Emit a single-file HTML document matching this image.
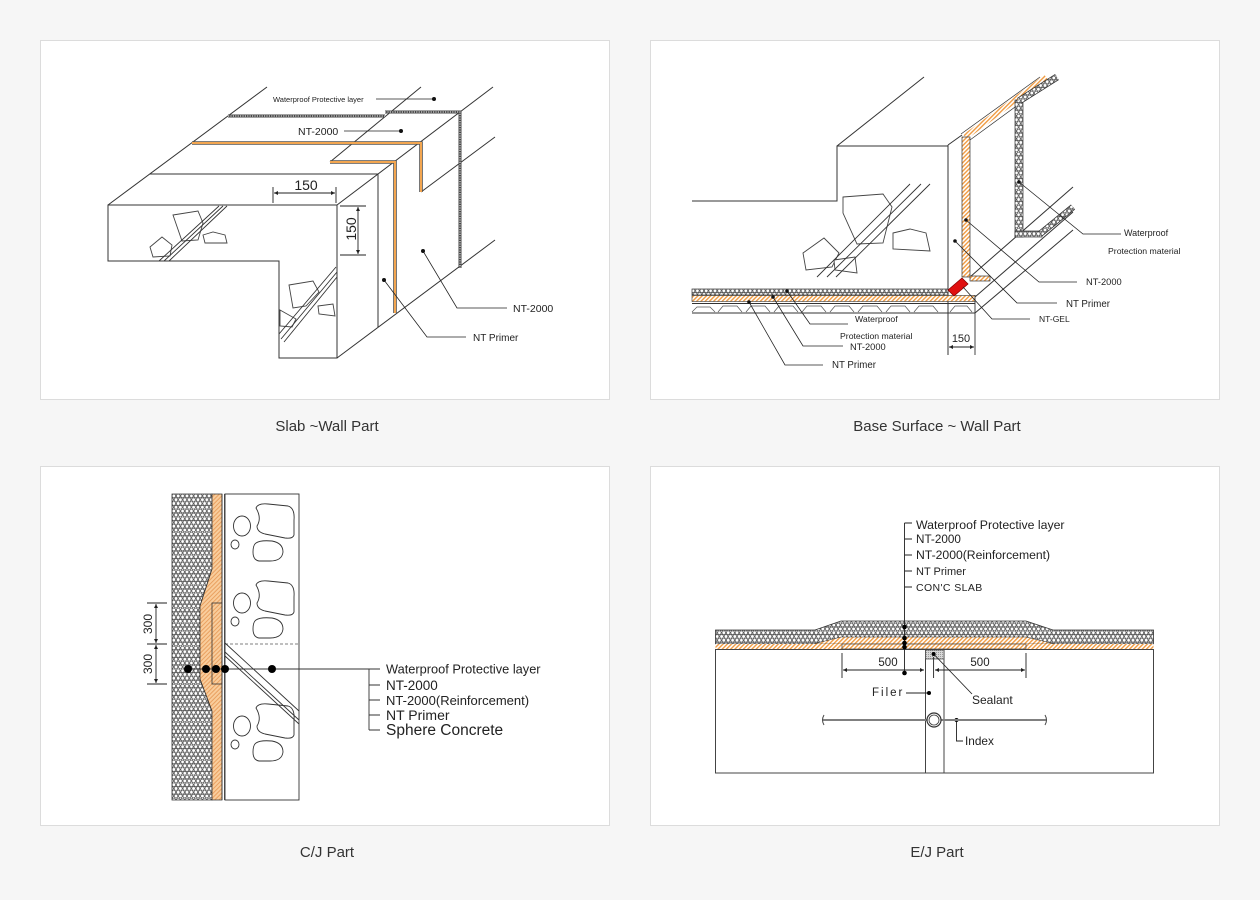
<!DOCTYPE html>
<html><head><meta charset="utf-8"><style>
html,body{margin:0;padding:0;background:#f6f6f6;}
svg{display:block}
</style></head><body>
<svg width="1260" height="900" viewBox="0 0 1260 900" xmlns="http://www.w3.org/2000/svg" font-family="'Liberation Sans', sans-serif">
<defs>
<pattern id="hx" width="4.4" height="7.6" patternUnits="userSpaceOnUse">
<rect width="4.4" height="7.6" fill="#fff"/>
<circle cx="2.2" cy="1.9" r="1.85" fill="none" stroke="#333" stroke-width="0.7"/>
<circle cx="0" cy="5.7" r="1.85" fill="none" stroke="#333" stroke-width="0.7"/>
<circle cx="4.4" cy="5.7" r="1.85" fill="none" stroke="#333" stroke-width="0.7"/>
</pattern>
<pattern id="oh" width="3" height="3" patternUnits="userSpaceOnUse" patternTransform="rotate(45)">
<rect width="3" height="3" fill="#fff"/><rect width="1.4" height="3" fill="#f09a40"/>
</pattern>
<pattern id="oh2" width="3" height="3" patternUnits="userSpaceOnUse" patternTransform="rotate(45)">
<rect width="3" height="3" fill="#f9cd9c"/><rect width="1" height="3" fill="#e9a060"/>
</pattern>
<pattern id="gs" width="2" height="2" patternUnits="userSpaceOnUse">
<rect width="2" height="2" fill="#d8d8d8"/><rect width="1" height="1" fill="#999"/>
</pattern>
<marker id="ar" viewBox="0 0 10 10" refX="10" refY="5" markerWidth="7" markerHeight="4" orient="auto-start-reverse" markerUnits="userSpaceOnUse"><path d="M0,0 L10,5 L0,10 z" fill="#222"/></marker>
</defs>

<rect width="1260" height="900" fill="#f6f6f6"/>
<rect x="40.5" y="40.5" width="569" height="359" fill="#fff" stroke="#dcdcdc"/>
<rect x="650.5" y="40.5" width="569" height="359" fill="#fff" stroke="#dcdcdc"/>
<rect x="40.5" y="466.5" width="569" height="359" fill="#fff" stroke="#dcdcdc"/>
<rect x="650.5" y="466.5" width="569" height="359" fill="#fff" stroke="#dcdcdc"/>

<g font-size="15" fill="#333" text-anchor="middle">
<text x="327" y="431">Slab ~Wall Part</text>
<text x="937" y="431">Base Surface ~ Wall Part</text>
<text x="327" y="857">C/J Part</text>
<text x="937" y="857">E/J Part</text>
</g>

<!-- ================= PANEL 1 ================= -->
<g fill="none" stroke="#333" stroke-width="1">
<path d="M108,205 L267,87"/>
<path d="M108,205 H337 V358 H279 V261 H108 Z"/>
<path d="M337,205 L493,87"/>
<path d="M150,174 H378 V327"/>
<path d="M337,358 L495,240"/>
<path d="M330,162 L421,87"/>
<path d="M421,192 L495,137"/>
</g>
<path d="M192,143 H421 V192" fill="none" stroke="#555" stroke-width="3.6"/>
<path d="M192,143 H421 V192" fill="none" stroke="#f3a650" stroke-width="2"/>
<path d="M330,162 H395 V313" fill="none" stroke="#555" stroke-width="3.6"/>
<path d="M330,162 H395 V313" fill="none" stroke="#f3a650" stroke-width="2"/>
<path d="M228,116 H385 M385,112 H460 V268" fill="none" stroke="#444" stroke-width="3"/>
<path d="M228,116 H385 M385,112 H460 V268" fill="none" stroke="#fff" stroke-width="1" stroke-dasharray="1.2 1.2"/>
<!-- rocks -->
<g fill="#fff" stroke="#444" stroke-width="0.9">
<polygon points="173,215 198,211 203,223 198,240 182,241"/>
<polygon points="150,247 162,237 172,245 170,256 153,257"/>
<polygon points="203,235 213,232 225,235 227,243 205,243"/>
<polygon points="289,285 313,281 319,292 306,306 293,308"/>
<polygon points="318,306 333,304 335,316 319,314"/>
<polygon points="280,310 296,319 292,327 280,326"/>
</g>
<g stroke="#333" stroke-width="0.9">
<path d="M159,261 L219,206 M164,261 L223,206 M169,261 L227,206"/>
<path d="M279,334 L336,267 M281,339 L337,272 M284,342 L337,277"/>
</g>
<!-- dims -->
<g stroke="#222" stroke-width="0.9" fill="none">
<path d="M273,187 V203 M336,187 V203"/>
<path d="M274,193 H335" marker-start="url(#ar)" marker-end="url(#ar)"/>
<path d="M340,206 H366 M340,255 H366"/>
<path d="M358,207 V254" marker-start="url(#ar)" marker-end="url(#ar)"/>
</g>
<text x="306" y="190" font-size="14" text-anchor="middle" fill="#222">150</text>
<text transform="translate(356,229) rotate(-90)" font-size="14" text-anchor="middle" fill="#222">150</text>
<!-- labels -->
<g stroke="#222" stroke-width="0.8" fill="none">
<path d="M376,99 H434"/>
<path d="M344,131 H401"/>
<path d="M423,251 L457,308 H507"/>
<path d="M384,280 L427,337 H466"/>
</g>
<g fill="#111">
<circle cx="434" cy="99" r="2"/><circle cx="401" cy="131" r="2"/>
<circle cx="423" cy="251" r="2"/><circle cx="384" cy="280" r="2"/>
</g>
<g fill="#222">
<text x="273" y="102" font-size="7.5">Waterproof Protective layer</text>
<text x="298" y="135" font-size="10.5">NT-2000</text>
<text x="513" y="312" font-size="10.5">NT-2000</text>
<text x="473" y="341" font-size="10">NT Primer</text>
</g>

<!-- ================= PANEL 2 ================= -->
<g fill="none" stroke="#333" stroke-width="1">
<path d="M692,201 H837 V146 H948"/>
<path d="M837,146 L924,77"/>
<path d="M948,145 V355"/>
<path d="M948,145 L962,135"/>
<path d="M970,277 L1073,187"/>
<path d="M975,297 L1073,212"/>
<path d="M975,313 L1073,230"/>
</g>
<!-- wall orange -->
<path d="M965,137 L1046,77" stroke="url(#oh)" stroke-width="6" fill="none"/>
<path d="M961,134 L1040,77 M970,140 L1052,80" stroke="#333" stroke-width="0.7" fill="none"/>
<rect x="962" y="137" width="8" height="140" fill="url(#oh)" stroke="#333" stroke-width="0.7"/>
<rect x="970" y="276" width="20" height="5" fill="url(#oh)" stroke="#333" stroke-width="0.7"/>
<!-- wall hex -->
<rect x="1015" y="100" width="8" height="137" fill="url(#hx)" stroke="#333" stroke-width="0.7"/>
<rect x="1015" y="231" width="27" height="6" fill="url(#hx)" stroke="#333" stroke-width="0.7"/>
<path d="M1040,234 L1073,207" stroke="#333" stroke-width="6.5" fill="none"/>
<path d="M1040,234 L1073,207" stroke="url(#hx)" stroke-width="5" fill="none"/>
<path d="M1019,101 L1057,77" stroke="#333" stroke-width="7" fill="none"/>
<path d="M1019,101 L1057,77" stroke="url(#hx)" stroke-width="5.5" fill="none"/>
<!-- floor -->
<rect x="692" y="289" width="256" height="6" fill="url(#hx)" stroke="#333" stroke-width="0.7"/>
<rect x="692" y="295.5" width="283" height="6" fill="url(#oh)" stroke="#333" stroke-width="0.6"/>
<path d="M692,303.5 H975 M692,313 H975 M975,295 V355" stroke="#333" stroke-width="0.9" fill="none"/>
<path d="M692,312 l5,-5 h13 l5,5 M718,312 l5,-6 h14 l5,6 M746,312 l5,-6 h14 l5,6 M774,312 l5,-6 h14 l5,6 M802,312 l5,-6 h14 l5,6 M830,312 l5,-6 h14 l5,6 M858,312 l5,-6 h14 l5,6 M886,312 l5,-6 h14 l5,6 M914,312 l5,-6 h14 l5,6 M950,312 l5,-6 h12 l5,6" stroke="#555" stroke-width="0.7" fill="none"/>
<!-- gel -->
<polygon points="948,290 962,278 968,284 954,296" fill="#e01010" stroke="#800" stroke-width="0.8"/>
<!-- rocks -->
<g fill="#fff" stroke="#444" stroke-width="0.9">
<polygon points="843,197 883,194 892,207 883,243 857,244 843,213"/>
<polygon points="803,253 824,238 839,253 832,267 806,270"/>
<polygon points="893,233 910,229 926,233 930,251 893,249"/>
<polygon points="834,260 855,257 857,273 835,270"/>
</g>
<path d="M817,277 L910,184 M827,277 L921,184 M836,277 L930,184" stroke="#333" stroke-width="0.9"/>
<!-- dim -->
<path d="M949,347 H974" stroke="#222" stroke-width="0.9" marker-start="url(#ar)" marker-end="url(#ar)"/>
<text x="961" y="342" font-size="11" text-anchor="middle" fill="#222">150</text>
<!-- leaders -->
<g stroke="#222" stroke-width="0.8" fill="none">
<path d="M1019,182 L1083,234 H1121"/>
<path d="M966,220 L1039,282 H1077"/>
<path d="M955,241 L1017,303 H1057"/>
<path d="M963,287 L992,319 H1030"/>
<path d="M787,291 L810,324 H848"/>
<path d="M773,297 L803,346 H843"/>
<path d="M749,302 L785,365 H823"/>
</g>
<g fill="#111">
<circle cx="1019" cy="182" r="1.8"/><circle cx="966" cy="220" r="1.8"/>
<circle cx="955" cy="241" r="1.8"/><circle cx="787" cy="291" r="1.8"/>
<circle cx="773" cy="297" r="1.8"/><circle cx="749" cy="302" r="1.8"/>
</g>
<g fill="#222">
<text x="1124" y="236" font-size="9">Waterproof</text>
<text x="1108" y="254" font-size="8.7">Protection material</text>
<text x="1086" y="285" font-size="9.3">NT-2000</text>
<text x="1066" y="307" font-size="9.7">NT Primer</text>
<text x="1039" y="322" font-size="8.5">NT-GEL</text>
<text x="855" y="322" font-size="8.7">Waterproof</text>
<text x="840" y="339" font-size="8.7">Protection material</text>
<text x="850" y="350" font-size="9.3">NT-2000</text>
<text x="832" y="368" font-size="9.7">NT Primer</text>
</g>

<!-- ================= PANEL 3 ================= -->
<polygon points="172,494 212,494 212,569 200,606 200,679 212,711 212,800 172,800" fill="url(#hx)" stroke="#333" stroke-width="0.8"/>
<polygon points="212,494 222,494 222,800 212,800 212,711 200,679 200,606 212,569" fill="url(#oh2)" stroke="#333" stroke-width="0.8"/>
<rect x="212" y="603" width="10" height="81" fill="none" stroke="#333" stroke-width="0.8"/>
<path d="M222,494 V800 M224.5,494 V800" stroke="#333" stroke-width="0.8"/>
<rect x="225" y="494" width="74" height="306" fill="#fff" stroke="#333" stroke-width="0.9"/>
<path d="M225,644 H299" stroke="#555" stroke-width="0.8" stroke-dasharray="3 2"/>
<g fill="none" stroke="#333" stroke-width="0.9">
<g id="rk">
<path d="M256,508 Q258,503 268,504 L288,506 Q295,508 294,520 L294,535 Q293,539 285,538 L265,534 Q257,532 257,526 Q262,518 256,508 Z"/>
<ellipse cx="242" cy="526" rx="8.5" ry="10"/>
<ellipse cx="235" cy="544.5" rx="4" ry="4.5"/>
<path d="M256,543 Q260,540 272,541 Q283,543 283,552 Q282,561 270,561 L259,561 Q253,560 253,552 Q253,545 256,543 Z"/>
</g>
<use href="#rk" transform="translate(0,77)"/>
<use href="#rk" transform="translate(0,200)"/>
</g>
<path d="M225,643 L299,711 M225,652 L299,720 M225,656 L299,724" stroke="#333" stroke-width="0.9"/>
<!-- dims -->
<g stroke="#222" stroke-width="0.9" fill="none">
<path d="M147,603 H167 M147,644 H167 M147,684 H167"/>
<path d="M156,604 V643" marker-start="url(#ar)" marker-end="url(#ar)"/>
<path d="M156,645 V683" marker-start="url(#ar)" marker-end="url(#ar)"/>
</g>
<text transform="translate(152,624) rotate(-90)" font-size="12" text-anchor="middle" fill="#222">300</text>
<text transform="translate(152,664) rotate(-90)" font-size="12" text-anchor="middle" fill="#222">300</text>
<path d="M188,669 H369 V730 M369,669 H380 M369,685 H380 M369,700 H380 M369,715 H380 M369,730 H380" stroke="#333" stroke-width="0.9" fill="none"/>
<g fill="#000">
<circle cx="188" cy="669" r="4"/><circle cx="206" cy="669" r="4"/><circle cx="216" cy="669" r="4"/><circle cx="225" cy="669" r="4"/><circle cx="272" cy="669" r="4"/>
</g>
<g fill="#222">
<text x="386" y="673.5" font-size="12.8">Waterproof Protective layer</text>
<text x="386" y="690" font-size="13.5">NT-2000</text>
<text x="386" y="705" font-size="13">NT-2000(Reinforcement)</text>
<text x="386" y="720" font-size="14">NT Primer</text>
<text x="386" y="735" font-size="15.5">Sphere Concrete</text>
</g>

<!-- ================= PANEL 4 ================= -->
<rect x="715.5" y="649.5" width="438" height="123.5" fill="#fff" stroke="#444" stroke-width="1"/>
<polygon points="715.5,630 815,630 841,621 1026,621 1053,630 1153.5,630 1153.5,644 715.5,644" fill="url(#hx)" stroke="#333" stroke-width="0.8"/>
<polygon points="813,644 841,637 1026,637 1055,644" fill="url(#oh)" stroke="#333" stroke-width="0.6"/>
<rect x="715.5" y="644" width="438" height="5" fill="url(#oh)"/>
<rect x="842" y="644" width="184" height="5" fill="none" stroke="#444" stroke-width="0.7"/>
<path d="M715.5,649.5 H1153.5" stroke="#444" stroke-width="1"/>
<path d="M925.5,649 V773 M944,649 V773" stroke="#444" stroke-width="1"/>
<rect x="925.5" y="650" width="18.5" height="9" fill="url(#gs)" stroke="#444" stroke-width="0.7"/>
<g stroke="#222" stroke-width="0.9" fill="none">
<path d="M842,653 V678 M1026,653 V678 M933.6,657 V678"/>
<path d="M843,670 H924" marker-start="url(#ar)" marker-end="url(#ar)"/>
<path d="M935,670 H1025" marker-start="url(#ar)" marker-end="url(#ar)"/>
<path d="M904.5,523 V673 M904.5,523 H912 M904.5,539 H912 M904.5,555 H912 M904.5,571 H912 M904.5,587 H912"/>
<path d="M906,693 H929"/>
<path d="M933.6,654 L972,694"/>
<path d="M956.5,720 V741 H963"/>
</g>
<g fill="#000">
<circle cx="904.5" cy="627" r="2.3"/><circle cx="904.5" cy="638" r="2.3"/><circle cx="904.5" cy="643" r="2.3"/><circle cx="904.5" cy="647" r="2.3"/><circle cx="904.5" cy="673" r="2.3"/>
<circle cx="929" cy="693" r="2"/><circle cx="933.6" cy="654" r="2"/><circle cx="956.5" cy="720" r="2"/>
</g>
<path d="M823,720 H927 M941,720 H1046" stroke="#555" stroke-width="2" fill="none"/>
<path d="M823,720 H927 M941,720 H1046" stroke="#fff" stroke-width="0.6" fill="none"/>
<path d="M824,715 Q821,720 824,725 M1045,715 Q1048,720 1045,725" stroke="#444" stroke-width="1" fill="none"/>
<circle cx="934" cy="720" r="7" fill="#fff" stroke="#333" stroke-width="1.2"/>
<circle cx="934" cy="720" r="5" fill="none" stroke="#333" stroke-width="0.8"/>
<g fill="#222">
<text x="916" y="529" font-size="12.3">Waterproof Protective layer</text>
<text x="916" y="543" font-size="11.7">NT-2000</text>
<text x="916" y="559" font-size="12.2">NT-2000(Reinforcement)</text>
<text x="916" y="575" font-size="11">NT Primer</text>
<text x="916" y="591" font-size="10.5" letter-spacing="0.4">CON'C SLAB</text>
<text x="888" y="666" font-size="11.5" text-anchor="middle">500</text>
<text x="980" y="666" font-size="11.5" text-anchor="middle">500</text>
<text x="872" y="696" font-size="11.5" letter-spacing="2">Filer</text>
<text x="972" y="704" font-size="12">Sealant</text>
<text x="965" y="745" font-size="11.8">Index</text>
</g>
</svg>
</body></html>
